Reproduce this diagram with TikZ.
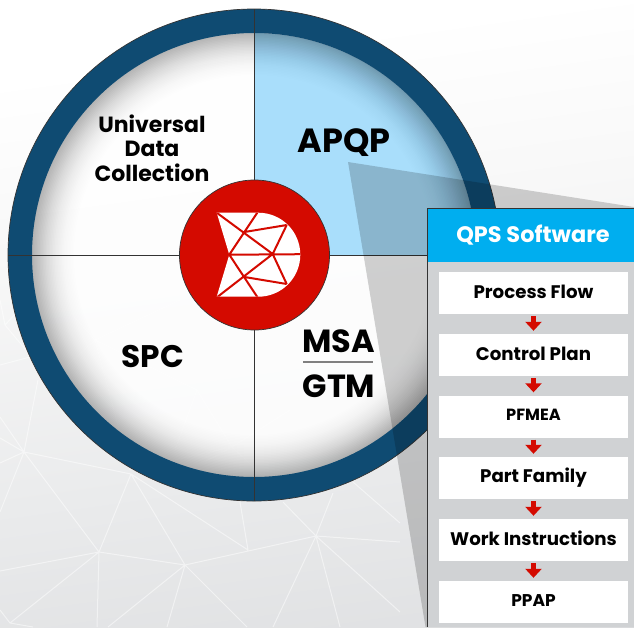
\documentclass[tikz,border=0pt]{standalone}
\usepackage{fontspec}
\setmainfont{Poppins}
\usetikzlibrary{arrows.meta,calc}
\definecolor{ringblue}{HTML}{0F4B72}
\definecolor{quad}{HTML}{A9DEFB}
\definecolor{logored}{HTML}{D40A00}
\definecolor{headblue}{HTML}{00AEEF}
\definecolor{panelgrey}{HTML}{D0D2D4}
\definecolor{bgbottom}{HTML}{DEDFE1}
\definecolor{bgmid}{HTML}{EAEBEC}
\definecolor{bglight}{HTML}{F8F8F8}
\definecolor{edgedark}{HTML}{333333}
\pgfdeclareverticalshading{bgshade}{100bp}{color(0bp)=(bgbottom); color(20bp)=(bgbottom); color(38bp)=(bgmid); color(58bp)=(bglight); color(72bp)=(white); color(100bp)=(white)}
\newcommand{\steptxt}[1]{\raisebox{3.2pt}{#1}}
\tikzset{
  meshline/.style={white,line width=1pt,opacity=.5},
  meshin/.style={white,line width=1pt,opacity=.4},
  cross/.style={edgedark,line width=.9pt},
  wheeltext/.style={font=\bfseries\fontsize{#1}{#1}\selectfont,text=black,inner sep=0pt},
  stepbox/.style={fill=white,minimum width=189pt,minimum height=42pt,inner sep=0pt,font=\bfseries\fontsize{#1}{#1}\selectfont,text=black},
  stepbox/.default=18.2,
  flow/.style={logored,line width=5.5pt,shorten <=2pt,shorten >=3pt,-{Triangle[length=9pt,width=16pt,inset=0pt]}},
}
\begin{document}
\begin{tikzpicture}[x=1pt,y=-1pt]
\useasboundingbox (0,0) rectangle (634,627);
% background
\shade[shading=bgshade,shading angle=8] (0,0) rectangle (634,627);
% mesh
\coordinate (A) at (24,452); \coordinate (B) at (131,474); \coordinate (C) at (99,552);
\coordinate (D) at (185,565); \coordinate (E) at (248,550); \coordinate (F) at (316,536);
\coordinate (G) at (10,623); \coordinate (H) at (5,325);
\draw[meshline] (A)--(B) (A)--(38,380) (A)--(0,417) (A)--(0,438) (A)--(0,463) (A)--(0,512)
 (A)--(C) (B)--(C) (B)--(D) (B)--(E) (E)--(240,502) (C)--(D) (C)--(0,571) (C)--(G) (C)--(97,627)
 (D)--(F) (D)--(108,627) (D)--(167,627) (D)--(247,627) (F)--(273,627) (F)--(340,627) (F)--(400,612)
 (F)--(400,542) (F)--(283,502) (F)--(333,493) (353,482)--(400,523) (G)--(0,610) (G)--(33,627)
 (H)--(40,367) (H)--(0,300) (H)--(28,300) (0,365)--(30,357);
% wheel face
\coordinate (c) at (254,255);
\fill[white,opacity=.8] (c) circle[radius=222];
\draw[meshin] (95,340)--(197,390) (197,390)--(232,447) (197,390)--(175,450) (95,340)--(60,372)
 (95,340)--(70,312) (95,340)--(180,300) (232,447)--(130,470) (232,447)--(290,410)
 (232,447)--(262,475) (232,447)--(190,470) (130,470)--(95,340);
\fill[quad] (c) -- (254,33) arc[start angle=-90,end angle=0,radius=222] -- cycle;
% inner rim shadow: stacked translucent annuli
\foreach \r in {180,181.5,...,221}{
  \pgfmathsetmacro{\op}{.002+(\r-180)*.00042}
  \fill[black,opacity=\op,even odd rule] (c) circle[radius=222.5] (c) circle[radius=\r];
}
% ring
\fill[ringblue,even odd rule] (c) circle[radius=246] (c) circle[radius=222];
\draw[edgedark,line width=.7pt] (c) circle[radius=246];
\draw[cross] (254,9)--(254,501);
\draw[cross] (8,255)--(427,255);
% hub
\node[circle,fill=logored,draw=edgedark,line width=.7pt,minimum size=150pt,inner sep=0pt] (hub) at (254.5,255) {};
\begin{scope}
 \path[clip] (216.7,212.7)--(258.3,212.7) arc[start angle=-90,end angle=90,radius=42] --(216.7,296.7)--(229.3,254.7)--cycle;
 \fill[white] (210,205) rectangle (305,305);
 \draw[logored,line width=2pt]
  (216.7,212.7)--(272.7,254) (257.3,212.7)--(229.3,254.7) (242.7,232.3)--(286.7,225) (286.7,225)--(272.7,254)
  (229.3,254.7)--(301,254.2) (272.7,254)--(286.7,284) (272.7,254)--(216.7,297.5)
  (229.3,254.7)--(257.3,297) (242.7,276.7)--(286.7,284);
\end{scope}
% wheel labels
\node[wheeltext=22] (u1) at (152,124) {Universal};
\node[wheeltext=22] (u2) at (152,149) {Data};
\node[wheeltext=22] (u3) at (152,173) {Collection};
\node[wheeltext=33.5] (apqp) at (344,142.5) {APQP};
\node[wheeltext=31.2] (spc) at (153,356) {SPC};
\node[wheeltext=32] (msa) at (338.5,341) {MSA};
\node[wheeltext=32] (gtm) at (339,386) {GTM};
\draw[gray,line width=1.2pt] (303,362)--(373,362);
% callout
\fill[black,opacity=.18] (348,162)--(634,207)--(634,627)--(425.5,627)--cycle;
% panel
\fill[panelgrey] (427,208) rectangle (634,627);
\draw[edgedark,line width=1pt] (427,627)--(427,208.5)--(634,208.5);
\node[fill=headblue,minimum width=206.5pt,minimum height=53pt,inner sep=0pt,text=white,font=\bfseries\fontsize{22.4}{22.4}\selectfont] (head) at (530.75,235.5) {\hspace{4.5pt}\raisebox{-1.5pt}{QPS Software}};
\node[stepbox] (s1) at (533.5,293) {\steptxt{Process Flow}};
\node[stepbox] (s2) at (533.5,355) {\steptxt{Control Plan}};
\node[stepbox=16.2] (s3) at (533.5,416.5) {\steptxt{PFMEA}};
\node[stepbox] (s4) at (533.5,478) {\steptxt{Part Family}};
\node[stepbox] (s5) at (533.5,540) {\steptxt{Work Instructions}};
\node[stepbox=17] (s6) at (533.5,602) {\steptxt{PPAP}};
\foreach \a/\b in {s1/s2,s2/s3,s3/s4,s4/s5,s5/s6}
  \draw[flow] (\a) -- (\b);
\end{tikzpicture}
\end{document}
